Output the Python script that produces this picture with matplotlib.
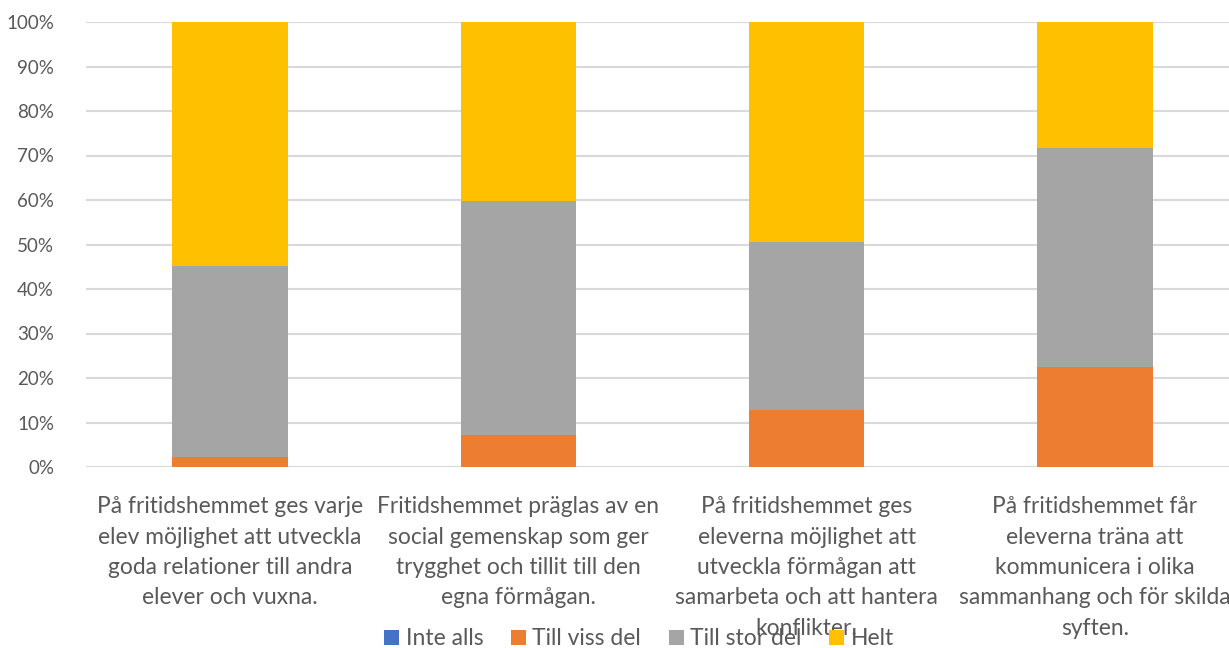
import numpy as np
import matplotlib
matplotlib.use("Agg")
import matplotlib.pyplot as plt

plt.rcParams['font.family'] = ['Lato', 'DejaVu Sans']

categories = [
    "På fritidshemmet ges varje\nelev möjlighet att utveckla\ngoda relationer till andra\nelever och vuxna.",
    "Fritidshemmet präglas av en\nsocial gemenskap som ger\ntrygghet och tillit till den\negna förmågan.",
    "På fritidshemmet ges\neleverna möjlighet att\nutveckla förmågan att\nsamarbeta och att hantera\nkonflikter.",
    "På fritidshemmet får\neleverna träna att\nkommunicera i olika\nsammanhang och för skilda\nsyften.",
]
series_names = ["Inte alls", "Till viss del", "Till stor del", "Helt"]
inte_alls = [0.0, 0.0, 0.0, 0.0]
till_viss_del = [2.3, 7.2, 12.8, 22.5]
till_stor_del = [42.9, 52.6, 37.7, 49.1]
helt = [54.8, 40.2, 49.5, 28.4]
colors = ["#4472C4", "#ED7D31", "#A5A5A5", "#FFC000"]

fig = plt.figure(figsize=(12.29, 6.48), dpi=100)
W, H = 1229, 648
ax = fig.add_axes([86 / W, 1 - 467 / H, (W - 86) / W, 445 / H])

x = np.arange(len(categories))
bottom = np.zeros(len(categories))
for name, vals, c in zip(series_names, [inte_alls, till_viss_del, till_stor_del, helt], colors):
    ax.bar(x, vals, 0.40, bottom=bottom, color=c, label=name, zorder=3)
    bottom += np.array(vals)

ax.set_ylim(0, 100)
ax.set_xlim(-0.5, 3.465)
ax.set_yticks(np.arange(0, 101, 10))
ax.set_yticklabels([f"{v}%" for v in range(0, 101, 10)])
ax.yaxis.grid(True, color="#D9D9D9", linewidth=1.5, zorder=0)
ax.set_axisbelow(True)
for s in ax.spines.values():
    s.set_visible(False)
ax.tick_params(axis="y", length=0, pad=23, labelsize=13.5, labelcolor="#595959")
ax.tick_params(axis="x", length=0, pad=21, labelsize=16.4, labelcolor="#595959")
ax.set_xticks(x)
ax.set_xticklabels(categories, linespacing=1.55)

leg = fig.legend(loc="lower center", bbox_to_anchor=(0.52, -0.034), ncol=4, frameon=False,
                 fontsize=16.5, handlelength=0.65, handleheight=0.65, handletextpad=0.3,
                 columnspacing=1.2)
for t in leg.get_texts():
    t.set_color("#595959")

fig.savefig("out.png", dpi=100)
